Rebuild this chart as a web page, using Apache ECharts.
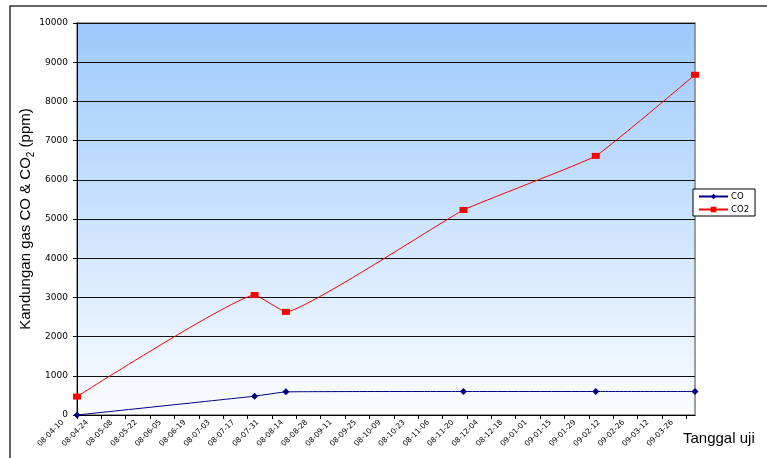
<!DOCTYPE html>
<html>
<head>
<meta charset="utf-8">
<script src="https://cdn.jsdelivr.net/npm/echarts@6/dist/echarts.min.js"></script>
<style>
  html, body { margin: 0; padding: 0; background: #fff; }
  #chart { width: 767px; height: 458px; }
</style>
</head>
<body>
<div id="chart"></div>
<script>
// Data
const sampleDates = ['08-04-10', '08-07-21', '08-08-08', '08-11-18', '09-02-02', '09-03-31'];
const coValues = [0, 480, 590, 600, 600, 600];
const co2Values = [470, 3060, 2630, 5230, 6610, 8680];
const axisStartDate = '08-04-10';
const axisEndDate = '09-03-31';
const dayStep = 14;
const yTicks = [0, 1000, 2000, 3000, 4000, 5000, 6000, 7000, 8000, 9000, 10000];

const FONT = '"Liberation Sans", Arial, sans-serif';
const TICKFONT = '"DejaVu Sans", sans-serif';
function parseYMD(s) {
  const p = s.split('-').map(Number);
  return Date.UTC(2000 + p[0], p[1] - 1, p[2]);
}
const t0 = parseYMD(axisStartDate);
const DAY = 86400000;
function dayOf(s) { return Math.round((parseYMD(s) - t0) / DAY); }
function fmtDay(d) {
  const dt = new Date(t0 + d * DAY);
  const yy = String(dt.getUTCFullYear() % 100).padStart(2, '0');
  const mm = String(dt.getUTCMonth() + 1).padStart(2, '0');
  const dd = String(dt.getUTCDate()).padStart(2, '0');
  return yy + '-' + mm + '-' + dd;
}
const xMax = dayOf(axisEndDate);
const coData = sampleDates.map((d, i) => [dayOf(d), coValues[i]]);
const co2Data = sampleDates.map((d, i) => [dayOf(d), co2Values[i]]);

const chart = echarts.init(document.getElementById('chart'), null, { renderer: 'canvas' });
chart.setOption({
  animation: false,
  backgroundColor: '#ffffff',
  textStyle: { fontFamily: FONT },
  grid: {
    left: 77, top: 23, right: 72, bottom: 43,
    show: true,
    borderColor: '#808080',
    borderWidth: 1.5,
    backgroundColor: {
      type: 'linear', x: 0, y: 0, x2: 0, y2: 1,
      colorStops: [
        { offset: 0, color: '#9ccafb' },
        { offset: 1, color: '#fbfdff' }
      ]
    }
  },
  graphic: [{
    type: 'rect',
    shape: { x: 10, y: 6, width: 1000, height: 1000 },
    style: { fill: 'none', stroke: '#333', lineWidth: 1.5 },
    silent: true
  }],
  legend: {
    orient: 'vertical',
    left: 693, top: 189,
    padding: [3, 6, 2, 5],
    itemGap: 4,
    itemWidth: 29,
    itemHeight: 7,
    borderColor: '#000',
    borderWidth: 1,
    backgroundColor: '#fff',
    textStyle: { fontSize: 8.5, color: '#000', fontFamily: TICKFONT, padding: [0, 0, 0, -2] },
    data: ['CO', 'CO2']
  },
  xAxis: {
    type: 'value',
    min: 0,
    max: xMax,
    interval: dayStep,
    name: 'Tanggal uji',
    nameLocation: 'end',
    nameGap: -12,
    nameTextStyle: {
      fontSize: 15, color: '#000', fontFamily: FONT,
      align: 'left', verticalAlign: 'top', padding: [16, 0, 0, 0]
    },
    axisLine: { show: true, onZero: false, lineStyle: { color: '#000', width: 1 } },
    axisTick: { show: true, inside: false, length: 4, lineStyle: { color: '#000' } },
    splitLine: { show: false },
    axisLabel: {
      rotate: 45,
      fontSize: 7.5,
      color: '#000',
      fontFamily: TICKFONT,
      margin: -8,
      padding: [0, 20, 0, 0],
      showMaxLabel: false,
      formatter: function (v) {
        if (v % dayStep !== 0) return '';
        return fmtDay(v);
      }
    }
  },
  yAxis: {
    type: 'value',
    min: yTicks[0],
    max: yTicks[yTicks.length - 1],
    interval: yTicks[1] - yTicks[0],
    name: '{a|Kandungan gas CO & CO}{s|2}{a| (ppm)}',
    nameLocation: 'middle',
    nameGap: 44,
    nameMoveOverlap: false,
    nameTextStyle: {
      color: '#000',
      rich: {
        a: { fontSize: 15, fontFamily: FONT, color: '#000', lineHeight: 18, verticalAlign: 'bottom' },
        s: { fontSize: 10, fontFamily: FONT, color: '#000', lineHeight: 12, verticalAlign: 'bottom', padding: [0, 0, -3, 0] }
      }
    },
    axisLine: { show: true, lineStyle: { color: '#000', width: 1 } },
    axisTick: { show: true, inside: false, length: 4, lineStyle: { color: '#000' } },
    splitLine: { show: true, lineStyle: { color: '#111', width: 1 } },
    axisLabel: {
      fontSize: 9, color: '#000', fontFamily: TICKFONT, margin: 9,
      formatter: function (v) { return String(v); }
    }
  },
  series: [
    {
      name: 'CO',
      type: 'line',
      data: coData,
      smooth: 0.1,
      symbol: 'diamond',
      symbolSize: 7,
      lineStyle: { color: '#000080', width: 1 },
      itemStyle: { color: '#000080' },
      z: 3
    },
    {
      name: 'CO2',
      type: 'line',
      data: co2Data,
      smooth: 0.1,
      symbol: 'rect',
      symbolSize: [8, 6],
      lineStyle: { color: '#ff0000', width: 1 },
      itemStyle: { color: '#ff0000' },
      z: 2
    }
  ]
});
</script>
</body>
</html>
